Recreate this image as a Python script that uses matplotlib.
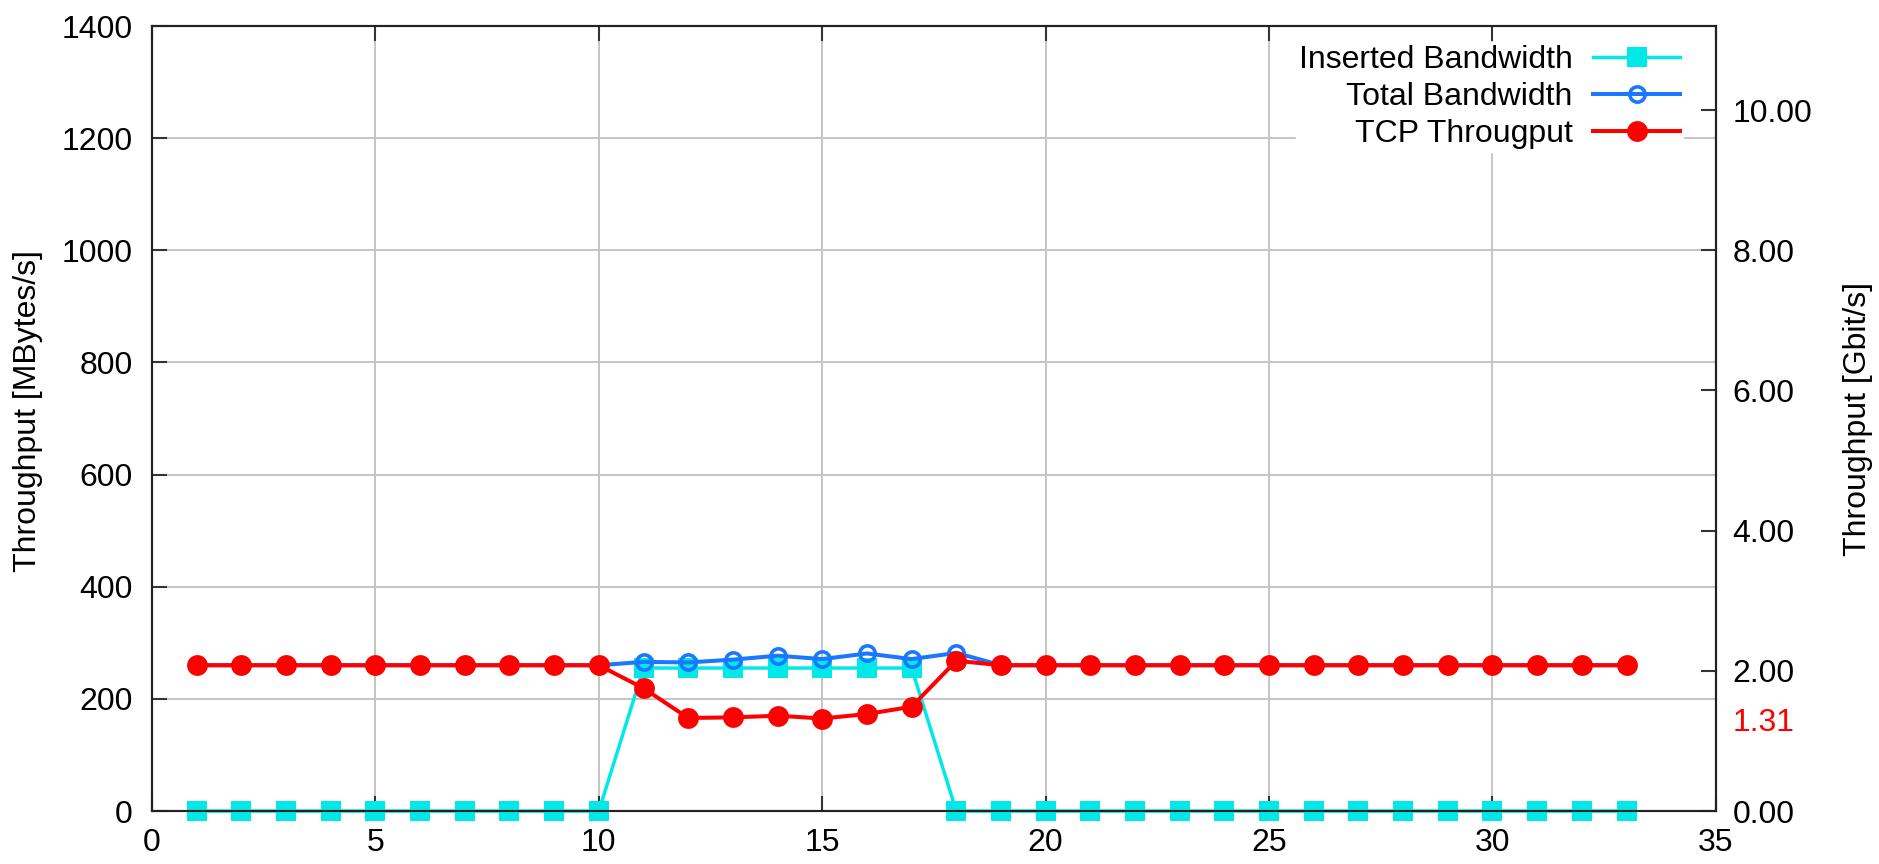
# Import required libraries
import matplotlib
matplotlib.use('Agg')
import matplotlib.pyplot as plt
import matplotlib as mpl

# Set global plot styling
mpl.rcParams.update({
    'font.family': 'Liberation Sans',
    'font.size': 23,
    'axes.linewidth': 1.5,
    'xtick.direction': 'in',
    'ytick.direction': 'in',
    'xtick.major.size': 11,
    'ytick.major.size': 11,
    'xtick.major.width': 1.5,
    'ytick.major.width': 1.5,
})

# Data (MBytes/s per time step)
steps = [1, 2, 3, 4, 5, 6, 7, 8, 9, 10, 11, 12, 13, 14, 15, 16, 17,
         18, 19, 20, 21, 22, 23, 24, 25, 26, 27, 28, 29, 30, 31, 32, 33]
inserted_bw = [0, 0, 0, 0, 0, 0, 0, 0, 0, 0, 255, 255, 255, 255, 255, 255, 255,
               0, 0, 0, 0, 0, 0, 0, 0, 0, 0, 0, 0, 0, 0, 0, 0]
total_bw = [260, 260, 260, 260, 260, 260, 260, 260, 260, 260, 266, 265, 270, 277, 271, 281, 271,
            282, 260, 260, 260, 260, 260, 260, 260, 260, 260, 260, 260, 260, 260, 260, 260]
tcp_tput = [260, 260, 260, 260, 260, 260, 260, 260, 260, 260, 219, 166, 167, 170, 165, 173, 186,
            268, 260, 260, 260, 260, 260, 260, 260, 260, 260, 260, 260, 260, 260, 260, 260]

xticks = [0, 5, 10, 15, 20, 25, 30, 35]
yticks = [0, 200, 400, 600, 800, 1000, 1200, 1400]
y2ticks = [0, 2, 4, 6, 8, 10]
tcp_mean_gbit = 1.31

# Create figure
fig, ax = plt.subplots(figsize=(18.79, 8.64), dpi=100)
fig.subplots_adjust(left=0.0809, right=0.9132, top=0.9699, bottom=0.0613)

# Plot the data
ax.plot(steps, inserted_bw, color='#00e8e8', linewidth=2.5, marker='s',
        markersize=15, markeredgewidth=0, label='Inserted Bandwidth',
        zorder=3, clip_on=False)
ax.plot(steps, total_bw, color='#1a78ff', linewidth=2.9, marker='o',
        markersize=11, markerfacecolor='none', markeredgewidth=2.6,
        label='Total Bandwidth', zorder=4)
ax.plot(steps, tcp_tput, color='#ff0000', linewidth=2.9, marker='o',
        markersize=15, markeredgewidth=0, label='TCP Througput', zorder=5)

# Axis limits and ticks
ax.set_xlim(0, 35)
ax.set_ylim(0, 1400)
ax.set_xticks(xticks)
ax.set_yticks(yticks)
ax.tick_params(axis='x', top=True, pad=12)
ax.tick_params(axis='y', right=True, pad=14)
for s in ax.spines.values():
    s.set_color('#222222')
ax.tick_params(colors='#333333', labelcolor='black')

ax.grid(True, color='#c4c4c4', linewidth=1.4, zorder=0)
ax.set_axisbelow(True)

ax.set_ylabel('Throughput [MBytes/s]')
ax.yaxis.set_label_coords(-0.0697, 0.51)

# Right axis in Gbit/s
ax2 = ax.twinx()
ax2.set_ylim(0, 1400 * 8 / 1000)
ax2.set_yticks(y2ticks + [tcp_mean_gbit])
ax2.set_yticklabels(['%.2f' % v for v in y2ticks + [tcp_mean_gbit]])
ax2.tick_params(axis='y', pad=12, colors='#333333', labelcolor='black')
for s in ax2.spines.values():
    s.set_color('#222222')
ax2.get_yticklabels()[-1].set_color('#ff0000')
ax2.yaxis.get_major_ticks()[-1].tick2line.set_visible(False)
ax2.set_ylabel('Throughput [Gbit/s]')
ax2.yaxis.set_label_coords(1.0812, 0.5)

# Legend
leg = ax.legend(loc='upper right', bbox_to_anchor=(0.9789, 0.9796), borderaxespad=0,
                markerfirst=False, numpoints=1, handlelength=2.7, handletextpad=0.65,
                labelspacing=0.22, borderpad=0.1, frameon=True, fancybox=False,
                facecolor='white', edgecolor='white', framealpha=1, fontsize=23)

# Save figure
plt.savefig('out.png', dpi=100)
plt.close()
